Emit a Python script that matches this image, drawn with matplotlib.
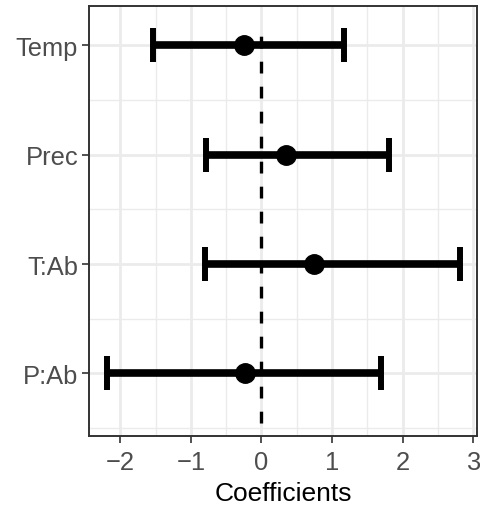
import numpy as np
import matplotlib
matplotlib.use("Agg")
import matplotlib.pyplot as plt
from matplotlib.ticker import FixedLocator

plt.rcParams['font.family'] = ['Liberation Sans', 'DejaVu Sans']
plt.rcParams['lines.scale_dashes'] = False

# coefficient estimates with interval bounds
terms = ["Temp", "Prec", "T:Ab", "P:Ab"]
estimate = [-0.25, 0.35, 0.75, -0.24]
lower = [-1.54, -0.79, -0.80, -2.19]
upper = [1.17, 1.81, 2.81, 1.69]

est = np.array(estimate)
lo = np.array(lower)
hi = np.array(upper)
ypos = np.arange(len(terms), 0, -1)   # Temp on top

W, H = 481, 506
fig = plt.figure(figsize=(W / 100, H / 100), dpi=100)
ax = fig.add_axes([89.3 / W, 1 - 436.7 / H, (477.3 - 89.3) / W, (436.7 - 7) / H])

grey92 = "#EBEBEB"
ax.set_xlim(-2.44, 3.06)
ax.set_ylim(0.43, 4.36)
ax.xaxis.set_major_locator(FixedLocator([-2, -1, 0, 1, 2, 3]))
ax.xaxis.set_minor_locator(FixedLocator([-1.5, -0.5, 0.5, 1.5, 2.5]))
ax.yaxis.set_major_locator(FixedLocator(ypos))
ax.yaxis.set_minor_locator(FixedLocator([0.5, 1.5, 2.5, 3.5]))
ax.set_yticklabels(terms)
ax.grid(True, which="major", color=grey92, lw=2.0)
ax.grid(True, which="minor", color=grey92, lw=1.0)
ax.set_axisbelow(True)

# zero reference line
ax.plot([0, 0], [0.55, 4.2], color="black", lw=2.4, dashes=(8.5, 9.5),
        solid_capstyle="butt", dash_capstyle="butt", zorder=2)

ax.errorbar(est, ypos, xerr=[est - lo, hi - est], fmt="o", color="black",
            ms=14, elinewidth=5.5, capsize=12, capthick=4.3, zorder=3)

for s in ax.spines.values():
    s.set_color("#333333")
    s.set_linewidth(1.4)

ax.tick_params(which="major", length=5, width=1.2, color="#333333",
               labelsize=18.4, labelcolor="#4D4D4D")
ax.tick_params(axis="x", pad=5)
ax.tick_params(axis="y", pad=3)
ax.tick_params(which="minor", length=0)
ax.set_xlabel("Coefficients", fontsize=19, color="black", labelpad=5)

fig.savefig("out.png", dpi=100)
